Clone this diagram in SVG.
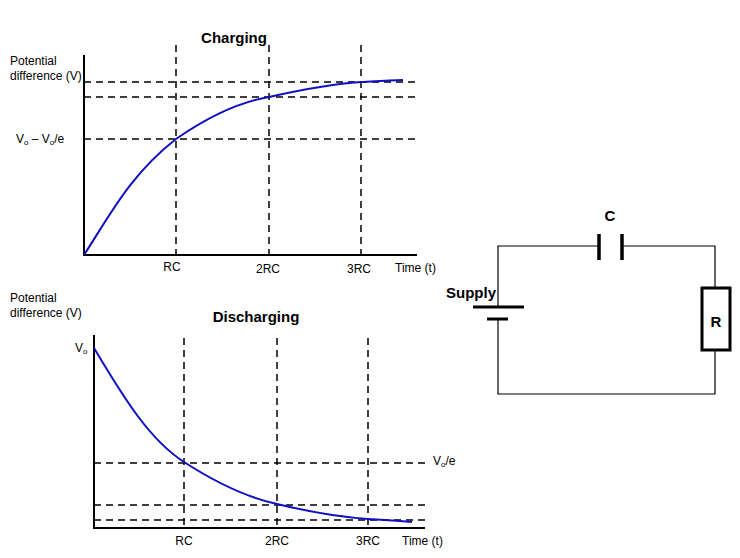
<svg xmlns="http://www.w3.org/2000/svg" width="740" height="558" viewBox="0 0 740 558">
<style>
text{font-family:"Liberation Sans",Arial,sans-serif;font-size:12px;fill:#000}
.b{font-weight:bold;font-size:15px}
.ax{stroke:#000;stroke-width:2;fill:none}
.d{stroke:#000;stroke-width:1.5;stroke-dasharray:7,5;fill:none}
.c{stroke:#1010c0;stroke-width:2;fill:none}
.w{stroke:#000;stroke-width:1.2;fill:none}
</style>
<rect width="740" height="558" fill="#fff"/>
<g id="charging">
<text class="b" x="234" y="43" text-anchor="middle">Charging</text>
<text x="10" y="65">Potential</text>
<text x="10" y="80">difference (V)</text>
<text x="16" y="143">V<tspan font-size="8" dy="2">o</tspan><tspan dy="-2"> – V</tspan><tspan font-size="8" dy="2">o</tspan><tspan dy="-2">/e</tspan></text>
<path class="ax" d="M84 55V255H417"/>
<path class="d" d="M176 45V255M269 45V255M361 45V255M84 82H417M84 97H417M84 139H417"/>
<path class="c" d="M84 255 C110 215,130 175,176 139 C215 112,245 101,269 97 C300 90,330 84,361 82 C380 81,395 80,403 80"/>
<text x="172" y="271" text-anchor="middle">RC</text>
<text x="268" y="273" text-anchor="middle">2RC</text>
<text x="359" y="273" text-anchor="middle">3RC</text>
<text x="395" y="272">Time (t)</text>
</g>
<g id="discharging">
<text x="10" y="302">Potential</text>
<text x="10" y="317">difference (V)</text>
<text class="b" x="256" y="322" text-anchor="middle">Discharging</text>
<text x="75" y="352">V<tspan font-size="8" dy="2">o</tspan></text>
<text x="433" y="465">V<tspan font-size="8" dy="2">o</tspan><tspan dy="-2">/e</tspan></text>
<path class="ax" d="M94 335V528H425"/>
<path class="d" d="M184 338V528M277 338V528M368 338V528M94 463H425M94 505H425M94 520H425"/>
<path class="c" d="M94 348 C125 400,150 440,184 462 C215 482,245 497,277 504 C310 512,340 517,368 519 C385 520,400 521,412 522"/>
<text x="184" y="545" text-anchor="middle">RC</text>
<text x="277" y="545" text-anchor="middle">2RC</text>
<text x="368" y="545" text-anchor="middle">3RC</text>
<text x="402" y="545">Time (t)</text>
</g>
<g id="circuit">
<path class="w" d="M498 307V246H599M622 246H715V288M715 350V394H498V319"/>
<path stroke="#000" stroke-width="3.5" d="M599 234V260M622 234V260"/>
<path stroke="#000" stroke-width="3" d="M473 307H524M487 319H508"/>
<rect x="702" y="288" width="28" height="62" fill="#fff" stroke="#000" stroke-width="3"/>
<text class="b" x="610" y="221" text-anchor="middle" font-size="16">C</text>
<text class="b" x="716" y="327" text-anchor="middle" font-size="16">R</text>
<text class="b" x="446" y="298" font-size="17">Supply</text>
</g>
</svg>
